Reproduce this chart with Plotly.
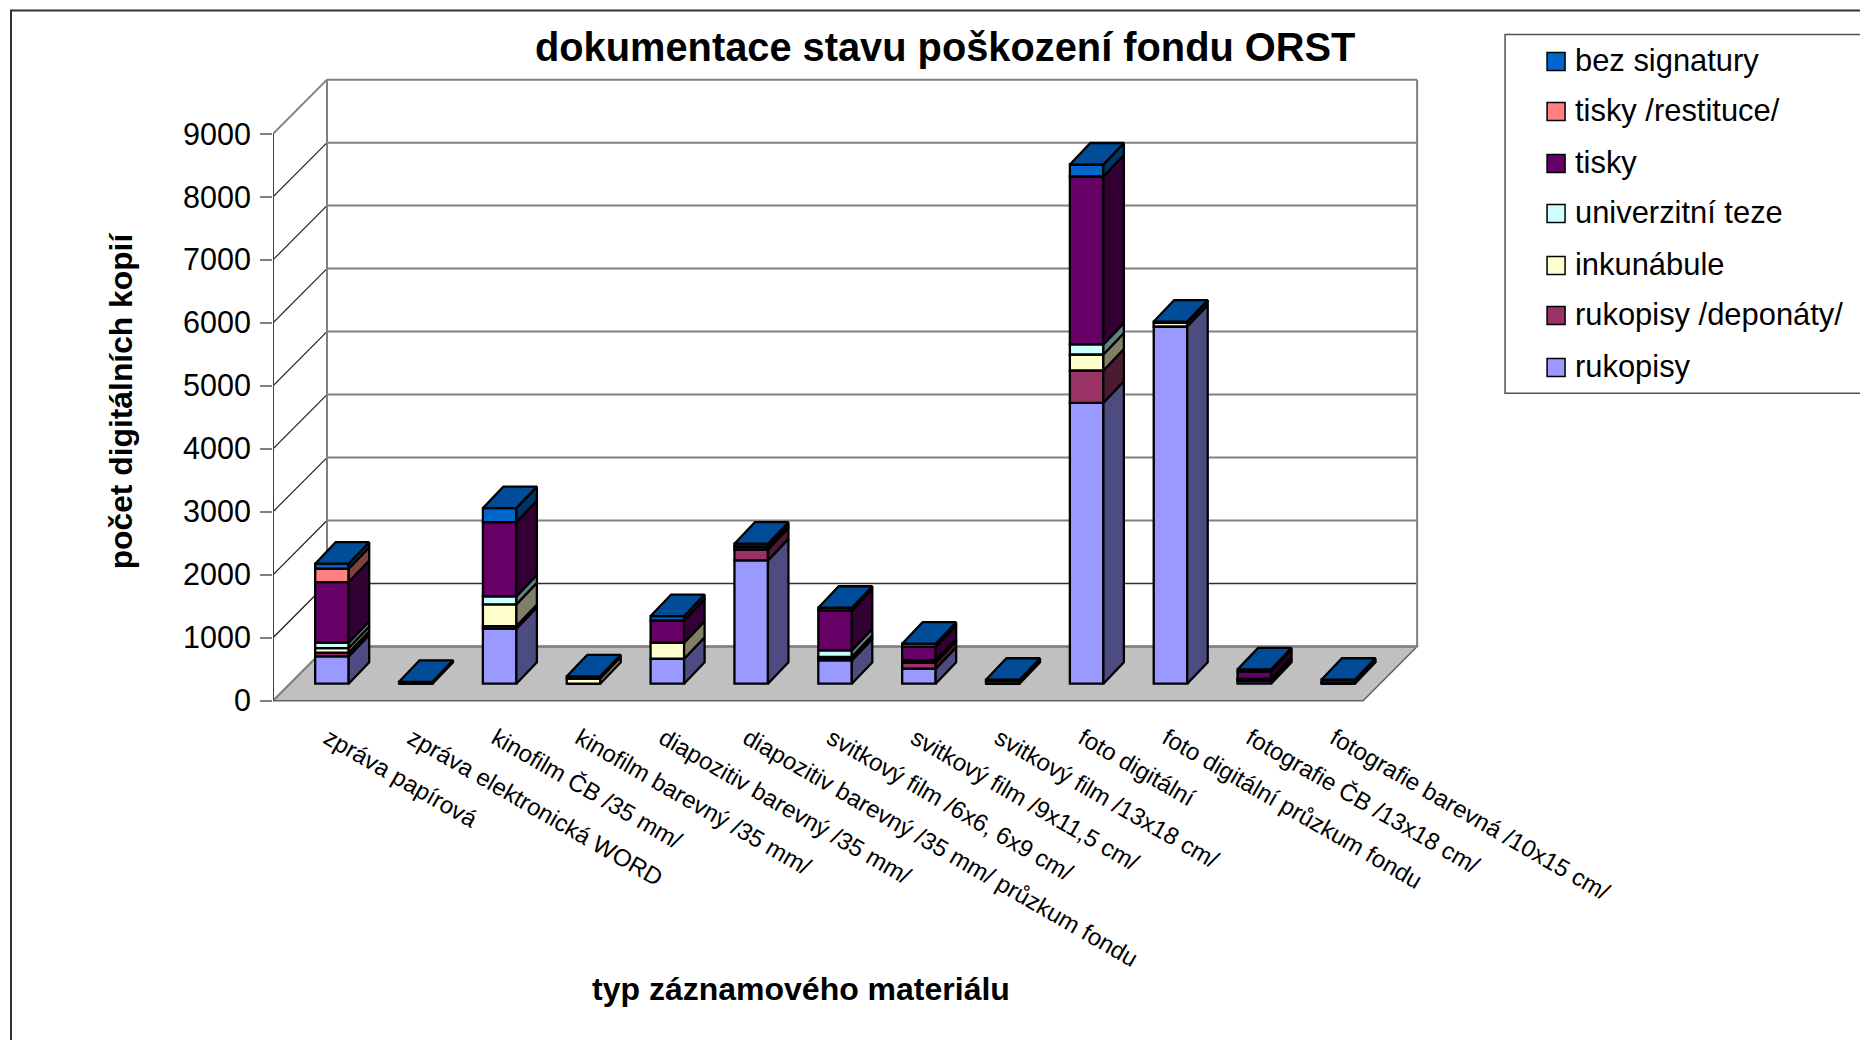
import plotly.graph_objects as go

categories = ["zpráva papírová", "zpráva elektronická WORD", "kinofilm ČB /35 mm/",
              "kinofilm barevný /35 mm/", "diapozitiv barevný /35 mm/",
              "diapozitiv barevný /35 mm/ průzkum fondu", "svitkový film /6x6, 6x9 cm/",
              "svitkový film /9x11,5 cm/", "svitkový film /13x18 cm/", "foto digitální",
              "foto digitální průzkum fondu", "fotografie ČB /13x18 cm/",
              "fotografie barevná /10x15 cm/"]

rukopisy         = [434, 0, 873, 0, 397, 1958, 370, 238, 0, 4460, 5671, 42, 0]
rukopisy_depon   = [58, 0, 42, 0, 0, 175, 32, 95, 0, 513, 0, 20, 0]
inkunabule       = [74, 0, 344, 85, 254, 0, 24, 20, 0, 254, 58, 10, 0]
univerzitni_teze = [85, 0, 127, 0, 0, 0, 103, 20, 40, 159, 0, 10, 0]
tisky            = [963, 0, 1180, 0, 354, 45, 635, 212, 0, 2667, 0, 113, 20]
tisky_restituce  = [212, 0, 0, 0, 0, 0, 0, 0, 0, 0, 0, 0, 0]
bez_signatury    = [79, 30, 222, 31, 69, 45, 42, 50, 23, 190, 21, 32, 43]

series_names = ["rukopisy", "rukopisy /deponáty/", "inkunábule", "univerzitní teze",
                "tisky", "tisky /restituce/", "bez signatury"]
series_values = [rukopisy, rukopisy_depon, inkunabule, univerzitni_teze,
                 tisky, tisky_restituce, bez_signatury]
front_colors = ["#9999FF", "#993366", "#FFFFCC", "#CCFFFF", "#660066", "#FF8080", "#0066CC"]
side_colors = ["#4C4C80", "#4C1933", "#808066", "#668080", "#330033", "#804040", "#003366"]
top_color = "#004C99"
y_ticks = [0, 1000, 2000, 3000, 4000, 5000, 6000, 7000, 8000, 9000]

# Page geometry of the oblique chart
W, H = 1860, 1040
PX_X = 83.85            # pixels per category
PX_Y = 0.063            # pixels per value unit
AX_LEFT, AX_BOTTOM = 273.0, 700.4
DEPTH_X = 54 / PX_X     # oblique depth of the floor in x units
DEPTH_Y = 54.2 / PX_Y   # oblique depth of the floor in value units
BAR_W = 33.5 / PX_X
BAR_IN_X, BAR_IN_Y = 17 / PX_X, 17 / PX_Y
BAR_D_X, BAR_D_Y = 20.5 / PX_X, 21.5 / PX_Y
LABEL_SHIFT = 13 / PX_X
EDGE = 2.3

x_hi = 13.75
y_lo, y_hi = -100, 9950
n = len(categories)
plot_l = AX_LEFT
plot_r = AX_LEFT + x_hi * PX_X
plot_t = AX_BOTTOM - y_hi * PX_Y
plot_b = AX_BOTTOM - y_lo * PX_Y


def px(x):
    return (x - plot_l) / (plot_r - plot_l)


def py(y):
    return (plot_b - y) / (plot_b - plot_t)


fig = go.Figure()

# front faces, with stacked bases
cum = [0.0] * n
geom = []
for s, vals in enumerate(series_values):
    bases = [c + BAR_IN_Y for c in cum]
    fig.add_trace(go.Bar(
        x=[i + 0.5 + BAR_IN_X for i in range(n)], y=vals, base=bases, width=BAR_W,
        name=series_names[s], marker=dict(color=front_colors[s], line=dict(color="#000000", width=EDGE)),
        showlegend=False, hoverinfo="skip"))
    geom.append([(c, c + v) for c, v in zip(cum, vals)])
    cum = [c + v for c, v in zip(cum, vals)]

# side faces per series
for s in range(len(series_values)):
    xs, ys = [], []
    for i in range(n):
        lo, hi = geom[s][i]
        if hi <= lo:
            continue
        x1 = i + 0.5 + BAR_IN_X + BAR_W / 2
        b = lo + BAR_IN_Y
        t = hi + BAR_IN_Y
        xs += [x1, x1 + BAR_D_X, x1 + BAR_D_X, x1, x1, None]
        ys += [b, b + BAR_D_Y, t + BAR_D_Y, t, b, None]
    fig.add_trace(go.Scatter(x=xs, y=ys, mode="lines", fill="toself", fillcolor=side_colors[s],
                             line=dict(color="#000000", width=EDGE), showlegend=False, hoverinfo="skip"))

# top faces
xs, ys = [], []
for i in range(n):
    x0 = i + 0.5 + BAR_IN_X - BAR_W / 2
    x1 = x0 + BAR_W
    t = cum[i] + BAR_IN_Y
    xs += [x0, x1, x1 + BAR_D_X, x0 + BAR_D_X, x0, None]
    ys += [t, t, t + BAR_D_Y, t + BAR_D_Y, t, None]
fig.add_trace(go.Scatter(x=xs, y=ys, mode="lines", fill="toself", fillcolor=top_color,
                         line=dict(color="#000000", width=EDGE), showlegend=False, hoverinfo="skip"))

# front value axis line
fig.add_trace(go.Scatter(x=[0, 0], y=[0, y_ticks[-1]], mode="lines", cliponaxis=False,
                         line=dict(color="#404040", width=2), showlegend=False, hoverinfo="skip"))

shapes = []
GREY = "#808080"
# floor
shapes.append(dict(type="path", layer="below", xref="x", yref="y",
                   path=f"M0,0 L{n},0 L{n + DEPTH_X},{DEPTH_Y} L{DEPTH_X},{DEPTH_Y} Z",
                   fillcolor="#C0C0C0", line=dict(color="#606060", width=1.5)))
# back wall and left wall lines
for v in y_ticks:
    thin = v == 1000
    if v > 0:
        shapes.append(dict(type="line", layer="below", xref="x", yref="y",
                           x0=DEPTH_X, x1=n + DEPTH_X, y0=v + DEPTH_Y, y1=v + DEPTH_Y,
                           line=dict(color="#303030" if thin else GREY, width=1.5 if thin else 2)))
    diag_grey = v in (0, 9000)
    shapes.append(dict(type="line", layer="below", xref="x", yref="y",
                       x0=0, x1=DEPTH_X, y0=v, y1=v + DEPTH_Y,
                       line=dict(color=GREY if diag_grey else "#202020", width=2 if diag_grey else 1.2)))
shapes.append(dict(type="line", layer="below", xref="x", yref="y", x0=DEPTH_X, x1=n + DEPTH_X,
                   y0=DEPTH_Y, y1=DEPTH_Y, line=dict(color=GREY, width=2.5)))
for xv in (DEPTH_X, n + DEPTH_X):
    shapes.append(dict(type="line", layer="below", xref="x", yref="y", x0=xv, x1=xv,
                       y0=DEPTH_Y, y1=y_ticks[-1] + DEPTH_Y, line=dict(color=GREY, width=2)))
# outer frame and legend frame, both running off the page
shapes.append(dict(type="rect", xref="paper", yref="paper", x0=px(11), x1=px(2100), y0=py(10), y1=py(1300),
                   line=dict(color="#303030", width=2), fillcolor="rgba(0,0,0,0)", layer="below"))
shapes.append(dict(type="rect", xref="paper", yref="paper", x0=px(1505), x1=px(2100), y0=py(34), y1=py(393),
                   line=dict(color="#505050", width=1.5), fillcolor="#FFFFFF", layer="above"))

FONT = "Liberation Sans"
annotations = [
    dict(text="<b>dokumentace stavu poškození fondu ORST</b>", x=px(945), y=py(47), font=dict(size=39.8)),
    dict(text="<b>počet digitálních kopií</b>", x=px(121), y=py(400), textangle=-90, font=dict(size=31.8)),
    dict(text="<b>typ záznamového materiálu</b>", x=px(801), y=py(988.5), font=dict(size=32)),
]
legend_order = list(range(len(series_names)))[::-1]
legend_y = [61, 111, 163, 213, 265, 315, 367]
for k, s in enumerate(legend_order):
    yc = legend_y[k]
    shapes.append(dict(type="rect", xref="paper", yref="paper", x0=px(1547), x1=px(1565),
                       y0=py(yc - 9), y1=py(yc + 9), fillcolor=front_colors[s],
                       line=dict(color="#000000", width=1.5), layer="above"))
    annotations.append(dict(text=series_names[s], x=px(1573), y=py(yc - 0.5), xanchor="left",
                            font=dict(size=30.9)))
for a in annotations:
    a.update(xref="paper", yref="paper", showarrow=False)
    a.setdefault("xanchor", "center")
    a["yanchor"] = "middle"
    a["font"].update(family=FONT, color="#000000")

fig.update_layout(
    width=W, height=H, autosize=False, barmode="overlay", showlegend=False, hovermode=False,
    paper_bgcolor="#FFFFFF", plot_bgcolor="#FFFFFF",
    margin=dict(l=plot_l, r=W - plot_r, t=plot_t, b=H - plot_b, pad=0),
    font=dict(family=FONT, color="#000000"),
    xaxis=dict(range=[0, x_hi], tickmode="array", tickvals=[i + 0.5 + LABEL_SHIFT for i in range(n)],
               ticktext=categories, tickangle=30, tickfont=dict(size=24, family=FONT, color="#000000"),
               ticks="outside", ticklen=7, tickcolor="rgba(0,0,0,0)", showgrid=False, zeroline=False,
               showline=False, automargin=False),
    yaxis=dict(range=[y_lo, y_hi], tickmode="array", tickvals=y_ticks, ticktext=[str(v) for v in y_ticks],
               tickfont=dict(size=30.5, family=FONT, color="#000000"), ticks="outside", ticklen=12, tickwidth=2,
               tickcolor=GREY, ticklabelstandoff=3, showgrid=False, zeroline=False, showline=False, automargin=False),
    shapes=shapes, annotations=annotations,
)

fig.write_html("out.html", config={"displayModeBar": False},
               post_script="document.body.style.margin='0';document.body.style.overflow='hidden';")
